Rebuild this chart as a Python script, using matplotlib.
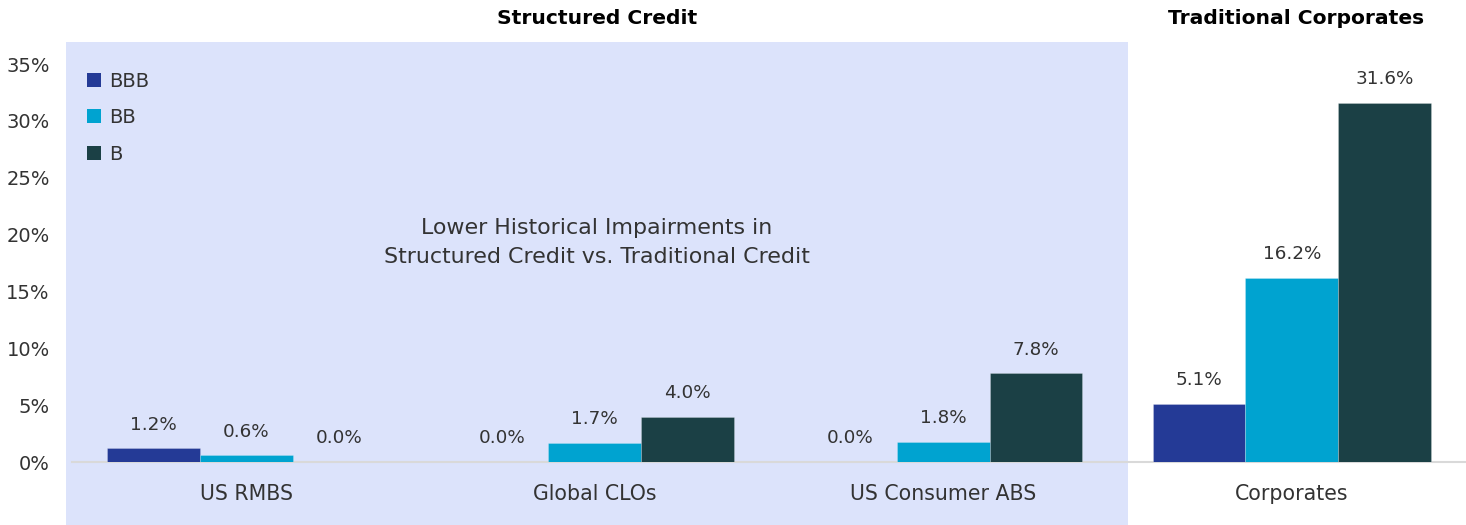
import matplotlib
matplotlib.use("Agg")
import matplotlib.pyplot as plt
from matplotlib.patches import Rectangle, Patch
import numpy as np

categories = ["US RMBS", "Global CLOs", "US Consumer ABS", "Corporates"]
series_names = ["BBB", "BB", "B"]
bbb = [1.2, 0.0, 0.0, 5.1]
bb = [0.6, 1.7, 1.8, 16.2]
b = [0.0, 4.0, 7.8, 31.6]
yticks = [0, 5, 10, 15, 20, 25, 30, 35]
colors = ["#243A96", "#00A3D0", "#1B4045"]

plt.rcParams['font.family'] = ['DejaVu Sans']
W, H = 1466, 525
fig = plt.figure(figsize=(W / 100, H / 100), dpi=100)

# shaded structured-credit panel
fig.patches.append(Rectangle((66 / W, 0), (1128 - 66) / W, (525 - 42) / H,
                             transform=fig.transFigure, facecolor="#DCE3FB",
                             edgecolor="none", zorder=0))

ax = fig.add_axes([72 / W, (H - 462) / H, (W - 72) / W, (462 - 64) / H])
ax.set_zorder(2)
ax.set_facecolor("none")
x = np.arange(len(categories))
bw = 0.266
txt = "#333333"
for i, (vals, name, c) in enumerate(zip([bbb, bb, b], series_names, colors)):
    pos = x + (i - 1) * bw
    ax.bar(pos, vals, width=bw, color=c, label=name, zorder=3,
           edgecolor=(1, 1, 1, 0.25), linewidth=0.6)
    for p, v in zip(pos, vals):
        ax.annotate(f"{v:.1f}%", (p, v), xytext=(0, 10.5), textcoords="offset points",
                    ha="center", va="bottom", fontsize=13.2, color=txt)

ax.set_xlim(-0.5, 3.5)
ax.set_ylim(0, 35)
ax.set_yticks(yticks)
ax.set_yticklabels([f"{t}%" for t in yticks], fontsize=14, color=txt)
ax.set_xticks(x)
ax.set_xticklabels(categories, fontsize=14.8, color=txt)
ax.tick_params(axis="both", length=0)
ax.tick_params(axis="y", pad=16)
ax.tick_params(axis="x", pad=16)
for side in ["top", "right", "left"]:
    ax.spines[side].set_visible(False)
ax.spines["bottom"].set_color("#D9D9D9")
ax.spines["bottom"].set_linewidth(1.5)

handles = [Patch(facecolor=c, edgecolor="none") for c in colors]
ax.legend(handles, series_names, loc="upper left", bbox_to_anchor=(-0.002, 1.025),
          frameon=False, fontsize=14, handlelength=0.72, handleheight=0.72,
          handletextpad=0.45, labelspacing=0.9, labelcolor=txt)

fig.text(597 / W, 1 - 242.5 / H, "Lower Historical Impairments in\nStructured Credit vs. Traditional Credit",
         ha="center", va="center", fontsize=15.9, color=txt, linespacing=1.6)

fig.text(597 / W, 1 - 18 / H, "Structured Credit", ha="center", va="center",
         fontsize=14.6, fontweight="bold", color="black")
fig.text(1296 / W, 1 - 18 / H, "Traditional Corporates", ha="center", va="center",
         fontsize=14.6, fontweight="bold", color="black")

fig.savefig("out.png", dpi=100)
